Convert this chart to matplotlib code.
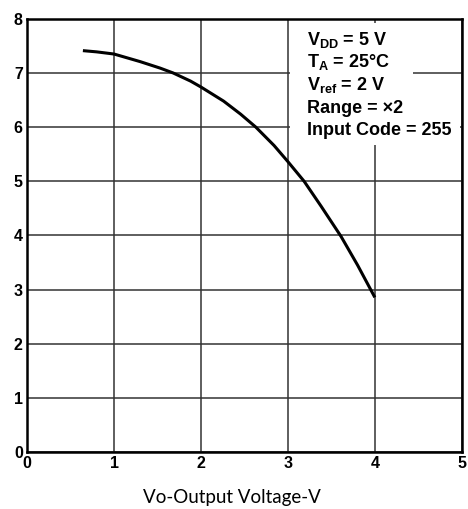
import matplotlib
matplotlib.use("Agg")
import matplotlib.pyplot as plt
from matplotlib.patches import Rectangle

# curve
vo = [0.66, 0.8, 1.0, 1.3, 1.53, 1.68, 1.88, 2.0, 2.26, 2.455, 2.63,
      2.84, 3.0, 3.185, 3.38, 3.61, 3.80, 3.99]
val = [7.41, 7.39, 7.35, 7.21, 7.09, 7.0, 6.85, 6.74, 6.48, 6.24, 6.0,
       5.66, 5.36, 5.0, 4.54, 3.98, 3.45, 2.88]

x_ticks = [0, 1, 2, 3, 4, 5]
y_ticks = [0, 1, 2, 3, 4, 5, 6, 7, 8]

notes = [r"V$_{\rm DD}$ = 5 V",
         r"T$_{\rm A}$ = 25°C",
         r"V$_{\rm ref}$ = 2 V",
         "Range = ×2",
         "Input Code = 255"]

plt.rcParams['font.family'] = ['Liberation Sans', 'DejaVu Sans']
plt.rcParams['mathtext.fontset'] = 'custom'
plt.rcParams['mathtext.rm'] = 'Liberation Sans:bold'
plt.rcParams['mathtext.it'] = 'Liberation Sans:bold'
plt.rcParams['mathtext.bf'] = 'Liberation Sans:bold'

fig = plt.figure(figsize=(4.68, 5.09), dpi=100)
ax = fig.add_axes([0.0577, 0.112, 0.9295, 0.851])

ax.set_xlim(0, 5)
ax.set_ylim(0, 8)
ax.set_xticks(x_ticks)
ax.set_yticks(y_ticks)
ax.grid(True, color='#333333', linewidth=1.1)
ax.set_axisbelow(True)
ax.tick_params(length=0, pad=3, labelsize=11.5)
for lab in ax.get_xticklabels() + ax.get_yticklabels():
    lab.set_fontweight('bold')
for sp in ax.spines.values():
    sp.set_linewidth(1.8)

# white panels behind the conditions text
ax.add_patch(Rectangle((3.02, 5.67), 1.42, 2.26, facecolor='white',
                       edgecolor='none', zorder=1.5))
ax.add_patch(Rectangle((4.4, 5.8), 0.58, 0.4, facecolor='white',
                       edgecolor='none', zorder=1.5))

ax.plot(vo, val, color='black', linewidth=2.2, zorder=3,
        solid_joinstyle='round')

for i, s in enumerate(notes):
    ax.text(3.22, 7.52 - i * 0.417, s, fontsize=13, fontweight='bold',
            va='baseline', ha='left', zorder=4)

fig.text(232 / 468, 0.022, "Vo-Output Voltage-V", ha='center', va='center',
         fontsize=13.5, family='Lato')

fig.savefig("out.png", dpi=100)
